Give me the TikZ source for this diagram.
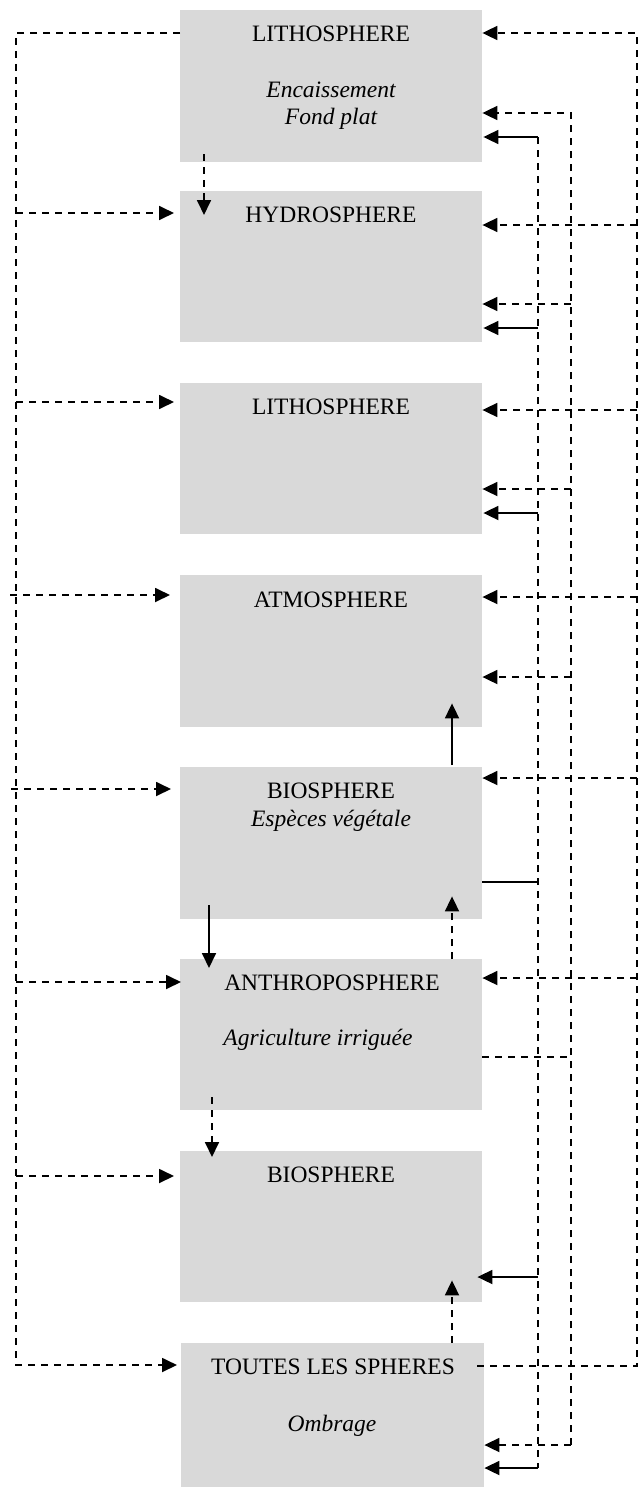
\documentclass[tikz,border=0pt]{standalone}
\usepackage{fontspec}
\setmainfont{Liberation Serif}
\usetikzlibrary{arrows.meta,calc}
\definecolor{boxgray}{RGB}{217,217,217}
\begin{document}
\begin{tikzpicture}[x=1pt,y=-1pt,
  box/.style={fill=boxgray,draw=none,inner sep=0pt,anchor=north west,minimum width=302pt},
  lbl/.style={anchor=base,inner sep=0pt,font=\fontsize{23.5}{28}\selectfont},
  ilbl/.style={anchor=base,inner sep=0pt,font=\fontsize{23.5}{28}\selectfont\itshape},
  dsh/.style={line width=1.8pt,dash pattern=on 7pt off 6pt},
  sol/.style={line width=1.8pt},
  arr/.style={-{Triangle[length=15pt,width=14pt]}}]
\useasboundingbox (0,0) rectangle (644,1488);
% boxes
\node[box,minimum height=152pt] (b1) at (180,10) {};
\node[box,minimum height=151pt] (b2) at (180,191) {};
\node[box,minimum height=151pt] (b3) at (180,383) {};
\node[box,minimum height=152pt] (b4) at (180,575) {};
\node[box,minimum height=152pt] (b5) at (180,767) {};
\node[box,minimum height=151pt] (b6) at (180,959) {};
\node[box,minimum height=151pt] (b7) at (180,1151) {};
\node[box,minimum height=144pt,minimum width=303pt] (b8) at (181,1343) {};
% labels
\node[lbl] (t1) at (331,42) {LITHOSPHERE};
\node[ilbl] (t1a) at (331,97) {Encaissement};
\node[ilbl] (t1b) at (331,124) {Fond plat};
\node[lbl] (t2) at (331,222) {HYDROSPHERE};
\node[lbl] (t3) at (331,414) {LITHOSPHERE};
\node[lbl] (t4) at (331,607) {ATMOSPHERE};
\node[lbl] (t5) at (331,798) {BIOSPHERE};
\node[ilbl] (t5a) at (331,826) {Espèces végétale};
\node[lbl] (t6) at (332,990) {ANTHROPOSPHERE};
\node[ilbl] (t6a) at (318,1045) {Agriculture irriguée};
\node[lbl] (t7) at (331,1182) {BIOSPHERE};
\node[lbl] (t8) at (333,1374) {TOUTES LES SPHERES};
\node[ilbl] (t8a) at (332,1431) {Ombrage};
% bus corner coordinates
\coordinate (LT) at (16,33);
\coordinate (LB) at (16,1365);
\coordinate (RT) at (637,33);
\coordinate (RB) at (637,1366);
\coordinate (MT) at (571,113);
\coordinate (MB) at (571,1445);
\coordinate (IT) at (538,137);
\coordinate (IB) at (538,1468);
% left bus
\draw[dsh,arr,shorten >=4pt] (b1.west |- LT) -- (LT) -- (LB) -- (b8.west |- LB);
\draw[dsh,arr,shorten >=6pt] (LT |- 0,213) -- (b2.west |- 0,213);
\draw[dsh,arr,shorten >=6pt] (LT |- 0,402) -- (b3.west |- 0,402);
\draw[dsh,arr,shorten >=10pt] (10,595) -- (b4.west |- 0,595);
\draw[dsh,arr,shorten >=9pt] (11,789) -- (b5.west |- 0,789);
\draw[dsh,arr,shorten >=-1pt] (LT |- 0,982) -- (b6.west |- 0,982);
\draw[dsh,arr,shorten >=6pt] (LT |- 0,1176) -- (b7.west |- 0,1176);
% right outer bus
\draw[dsh,arr] ([xshift=-7pt]b8.east |- RB) -- (RB) -- (RT) -- (b1.east |- RT);
\draw[dsh,arr] (RT |- 0,225) -- (b2.east |- 0,225);
\draw[dsh,arr] (RT |- 0,410) -- (b3.east |- 0,410);
\draw[dsh,arr] (RT |- 0,597) -- (b4.east |- 0,597);
\draw[dsh,arr] (RT |- 0,778) -- (b5.east |- 0,778);
\draw[dsh,arr] (RT |- 0,978) -- (b6.east |- 0,978);
% middle bus
\draw[dsh] (b6.east |- 0,1057) -- (MB |- 0,1057);
\draw[dsh,arr] (MB) -- (MT) -- (b1.east |- MT);
\draw[dsh,arr] (MB) -- (b8.east |- MB);
\draw[dsh,arr] (MT |- 0,304) -- (b2.east |- 0,304);
\draw[dsh,arr] (MT |- 0,489) -- (b3.east |- 0,489);
\draw[dsh,arr] (MT |- 0,677) -- (b4.east |- 0,677);
% inner bus
\draw[sol] (b5.east |- 0,882) -- (IT |- 0,882);
\draw[dsh] (IT) -- (IB);
\draw[sol,arr,shorten >=1pt] (IT) -- (b1.east |- IT);
\draw[sol,arr,shorten >=1pt] (IT |- 0,328) -- (b2.east |- 0,328);
\draw[sol,arr,shorten >=1pt] (IT |- 0,513) -- (b3.east |- 0,513);
\draw[sol,arr,shorten >=-5pt] (IT |- 0,1277) -- (b7.east |- 0,1277);
\draw[sol,arr,shorten >=0pt] (IB) -- (b8.east |- IB);
% vertical links between boxes
\draw[dsh,arr] ($(b1.south west)+(24,-8)$) -- ($(b2.north west)+(24,24)$);
\draw[sol,arr] ($(b5.north west)+(272,-2)$) -- ($(b4.south west)+(272,-24)$);
\draw[dsh,arr] ($(b6.north west)+(272,0)$) -- ($(b5.south west)+(272,-23)$);
\draw[sol,arr] ($(b5.south west)+(29,-14)$) -- ($(b6.north west)+(29,9)$);
\draw[dsh,arr] ($(b6.south west)+(32,-13)$) -- ($(b7.north west)+(32,6)$);
\draw[dsh,arr] ($(b8.north west)+(271,0)$) -- ($(b7.south west)+(272,-22)$);
\end{tikzpicture}
\end{document}
